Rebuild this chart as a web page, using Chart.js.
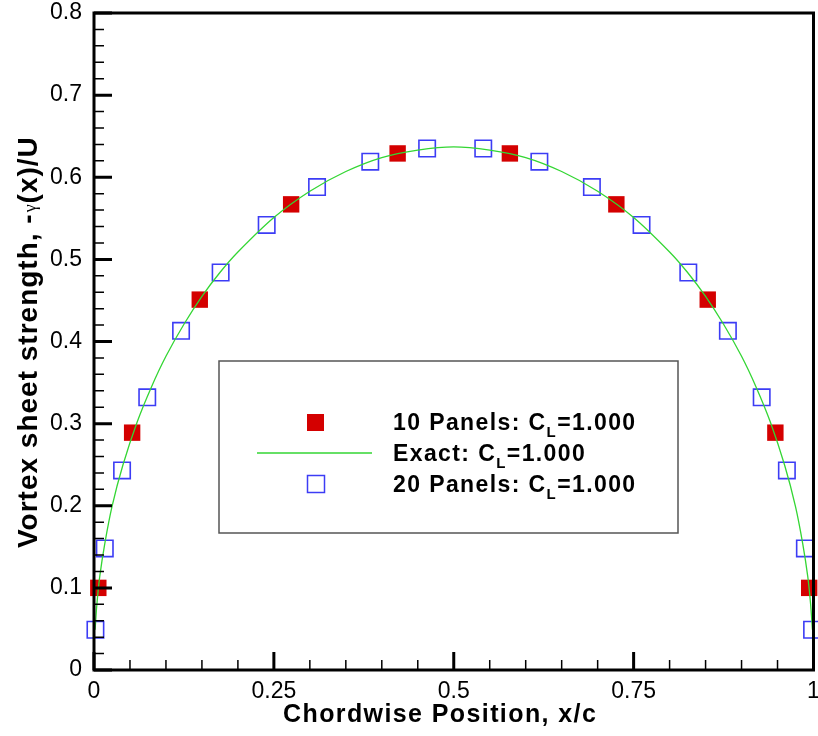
<!DOCTYPE html>
<html>
<head>
<meta charset="utf-8">
<script src="https://cdn.jsdelivr.net/npm/chart.js@4"></script>
<style>
    html, body { margin: 0; padding: 0; background: #fff; }
</style>
</head>
<body>
<canvas id="chart" width="818" height="736"></canvas>
<script>
// dane
const panels10X = [0.006, 0.053, 0.147, 0.274, 0.422, 0.578, 0.726, 0.853, 0.947, 0.994];
const panels10Y = [0.100, 0.289, 0.451, 0.567, 0.629, 0.629, 0.567, 0.451, 0.289, 0.100];

const panels20X = [0.002, 0.015, 0.039, 0.074, 0.121, 0.176, 0.240, 0.310, 0.384, 0.463,
                   0.541, 0.619, 0.692, 0.761, 0.826, 0.881, 0.928, 0.963, 0.988, 0.998];
const panels20Y = [0.049, 0.148, 0.243, 0.332, 0.413, 0.484, 0.542, 0.588, 0.619, 0.635,
                   0.635, 0.619, 0.588, 0.542, 0.484, 0.413, 0.332, 0.243, 0.148, 0.049];

const exactX = [0.0015, 0.004, 0.008, 0.015, 0.025, 0.04, 0.06, 0.08, 0.1, 0.125, 0.15, 0.175, 0.2,
                0.25, 0.3, 0.35, 0.4, 0.45, 0.5, 0.55, 0.6, 0.65, 0.7, 0.75, 0.8, 0.825, 0.85,
                0.875, 0.9, 0.92, 0.94, 0.96, 0.975, 0.985, 0.992, 0.996, 0.9985];
const exactY = [0.049, 0.080, 0.114, 0.154, 0.199, 0.249, 0.302, 0.345, 0.382, 0.421, 0.455, 0.484, 0.509,
                0.551, 0.583, 0.607, 0.624, 0.633, 0.637, 0.633, 0.624, 0.607, 0.583, 0.551, 0.509, 0.484, 0.455,
                0.421, 0.382, 0.345, 0.302, 0.249, 0.199, 0.154, 0.114, 0.080, 0.049];

const xTicks = [0, 0.25, 0.5, 0.75, 1];
const xTickLabels = ['0', '0.25', '0.5', '0.75', '1'];
const yTicks = [0, 0.1, 0.2, 0.3, 0.4, 0.5, 0.6, 0.7, 0.8];
const yTickLabels = ['0', '0.1', '0.2', '0.3', '0.4', '0.5', '0.6', '0.7', '0.8'];
const xMinorStep = 0.05;
const yMinorStep = 0.02;

const legendItems = ['10 Panels: C', 'Exact: C', '20 Panels: C'];
const legendValue = '=1.000';

const RED = '#d40000';
const BLUE = '#3c3cf5';
const GREEN = '#33d633';
const FONT = '"Liberation Sans", Arial, sans-serif';

const toPoints = (xs, ys) => xs.map((v, i) => ({ x: v, y: ys[i] }));

// ramka + ticki do wewnątrz, etykiety osi X
const frameTicks = {
    id: 'frameTicks',
    afterDatasetsDraw(chart) {
        const { ctx, chartArea: a, scales: { x, y } } = chart;
        ctx.save();
        ctx.strokeStyle = '#000';
        ctx.lineCap = 'butt';

        ctx.lineWidth = 1.5;
        ctx.beginPath();
        const nx = Math.round(1 / xMinorStep);
        for (let i = 0; i <= nx; i++) {
            const px = x.getPixelForValue(i * xMinorStep);
            ctx.moveTo(px, a.bottom);
            ctx.lineTo(px, a.bottom - 10);
        }
        const ny = Math.round(0.8 / yMinorStep);
        for (let i = 0; i <= ny; i++) {
            const py = y.getPixelForValue(i * yMinorStep);
            ctx.moveTo(a.left, py);
            ctx.lineTo(a.left + 10, py);
        }
        ctx.stroke();

        ctx.lineWidth = 3;
        ctx.beginPath();
        xTicks.forEach(v => {
            const px = x.getPixelForValue(v);
            ctx.moveTo(px, a.bottom);
            ctx.lineTo(px, a.bottom - 18);
        });
        yTicks.forEach(v => {
            const py = y.getPixelForValue(v);
            ctx.moveTo(a.left, py);
            ctx.lineTo(a.left + 18, py);
        });
        ctx.stroke();

        ctx.lineWidth = 3;
        ctx.strokeRect(a.left, a.top, a.right - a.left, a.bottom - a.top);

        // etykiety X rysowane ręcznie
        ctx.fillStyle = '#000';
        ctx.font = '23px ' + FONT;
        ctx.textAlign = 'center';
        ctx.textBaseline = 'alphabetic';
        xTicks.forEach((v, i) => {
            ctx.fillText(xTickLabels[i], x.getPixelForValue(v), a.bottom + 28);
        });
        ctx.restore();
    }
};

// tytuły osi i legenda w ramce
const annotations = {
    id: 'annotations',
    afterDraw(chart) {
        const { ctx } = chart;
        ctx.save();
        ctx.fillStyle = '#000';
        ctx.textBaseline = 'alphabetic';
        ctx.textAlign = 'left';

        // tytuł osi X
        ctx.font = 'bold 25px ' + FONT;
        ctx.letterSpacing = '1.4px';
        ctx.fillText('Chordwise Position, x/c', 283, 722);

        // tytuł osi Y (z małą gammą)
        const boldF = 'bold 28px ' + FONT;
        const gF = '18px "Liberation Serif", serif';
        ctx.translate(37, 548);
        ctx.rotate(-Math.PI / 2);
        let cx = 0;
        ctx.font = boldF;
        ctx.letterSpacing = '1px';
        ctx.fillText('Vortex sheet strength, -', cx, 0);
        cx += ctx.measureText('Vortex sheet strength, -').width;
        ctx.font = gF;
        ctx.letterSpacing = '0px';
        ctx.fillText('γ', cx + 1, -1);
        cx += ctx.measureText('γ').width + 2;
        ctx.font = boldF;
        ctx.letterSpacing = '1px';
        ctx.fillText('(x)/U', cx, 0);
        ctx.setTransform(1, 0, 0, 1, 0, 0);

        // legenda
        ctx.letterSpacing = '0px';
        ctx.fillStyle = '#fff';
        ctx.fillRect(219, 361, 459, 172);
        ctx.strokeStyle = '#555';
        ctx.lineWidth = 1.5;
        ctx.strokeRect(219, 361, 459, 172);

        ctx.fillStyle = RED;
        ctx.fillRect(307, 414, 17, 17);
        ctx.strokeStyle = GREEN;
        ctx.lineWidth = 1.3;
        ctx.beginPath();
        ctx.moveTo(257, 453);
        ctx.lineTo(372, 453);
        ctx.stroke();
        ctx.strokeStyle = BLUE;
        ctx.lineWidth = 1.5;
        ctx.strokeRect(307.5, 475.5, 17, 17);

        const baselines = [430, 461, 492];
        ctx.fillStyle = '#000';
        ctx.letterSpacing = '1.4px';
        legendItems.forEach((t, i) => {
            let tx = 393;
            ctx.font = 'bold 23px ' + FONT;
            ctx.fillText(t, tx, baselines[i]);
            tx += ctx.measureText(t).width;
            ctx.font = 'bold 15px ' + FONT;
            ctx.fillText('L', tx, baselines[i] + 7);
            tx += ctx.measureText('L').width;
            ctx.font = 'bold 23px ' + FONT;
            ctx.fillText(legendValue, tx, baselines[i]);
        });
        ctx.restore();
    }
};

new Chart(document.getElementById('chart').getContext('2d'), {
    type: 'scatter',
    data: {
        datasets: [
            {
                label: 'Exact',
                data: toPoints(exactX, exactY),
                showLine: true,
                borderColor: GREEN,
                borderWidth: 1.3,
                pointRadius: 0,
                tension: 0.3,
                fill: false,
                clip: false,
                order: 0
            },
            {
                label: '10 Panels',
                data: toPoints(panels10X, panels10Y),
                pointStyle: 'rect',
                pointRadius: 11.6,
                backgroundColor: RED,
                borderColor: RED,
                borderWidth: 0,
                clip: false,
                order: 2
            },
            {
                label: '20 Panels',
                data: toPoints(panels20X, panels20Y),
                pointStyle: 'rect',
                pointRadius: 11.6,
                backgroundColor: 'rgba(255,255,255,0)',
                borderColor: BLUE,
                borderWidth: 1.6,
                clip: false,
                order: 1
            }
        ]
    },
    options: {
        responsive: false,
        animation: false,
        layout: { autoPadding: false, padding: { top: 13, right: 4.5, left: 0, bottom: 0 } },
        plugins: {
            legend: { display: false },
            tooltip: { enabled: false }
        },
        scales: {
            x: {
                type: 'linear',
                min: 0,
                max: 1,
                afterFit: s => { s.height = 66; },
                afterBuildTicks: s => { s.ticks = xTicks.map(v => ({ value: v })); },
                grid: { display: false, drawTicks: false },
                border: { display: false },
                ticks: { display: false }
            },
            y: {
                type: 'linear',
                min: 0,
                max: 0.8,
                afterFit: s => { s.width = 94; s.paddingTop = 0; s.paddingBottom = 0; },
                afterBuildTicks: s => { s.ticks = yTicks.map(v => ({ value: v })); },
                grid: { display: false, drawTicks: false },
                border: { display: false },
                ticks: {
                    padding: 12,
                    color: '#000',
                    font: { family: FONT, size: 23 },
                    callback: (v, i) => yTickLabels[i]
                }
            }
        }
    },
    plugins: [frameTicks, annotations]
});
</script>
</body>
</html>
